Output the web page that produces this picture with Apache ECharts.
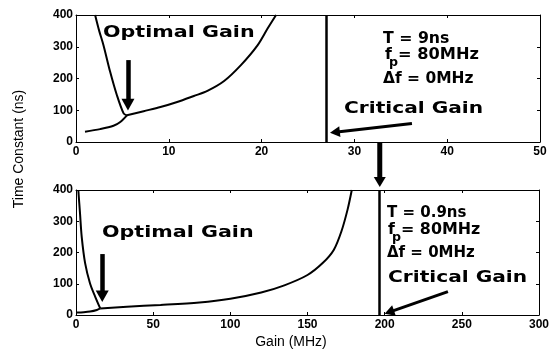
<!DOCTYPE html>
<html><head><meta charset="utf-8">
<script src="https://cdn.jsdelivr.net/npm/echarts@6/dist/echarts.min.js"></script>
<style>html,body{margin:0;padding:0;background:#fff}#c{width:555px;height:349px}</style>
</head><body><div id="c"></div>
<script>
// ---- data ----
const topXRange = [0, 50];
const topXInterval = 10;
const bottomXRange = [0, 300];
const bottomXInterval = 50;
const yRange = [0, 400];
const yInterval = 100;

// top panel: T = 9ns
const topLeftBranch = [[2.06,400],[2.5,350],[2.96,305],[3.68,221],[4.4,148],[5.13,90],[5.49,84]];
const topLowerBranch = [[0.97,32.5],[2.6,40.6],[4.04,51],[4.77,63],[5.49,84]];
const topRightBranch = [[5.49,84],[7.29,97],[9.1,110],[10.9,126],[12.7,145],[14.16,161],[15.96,192],[17.77,242],[19.58,305],[20.66,358],[21.56,400]];
const topCritical = 27;
const topOptimalArrow = [[5.6,258],[5.6,118]];
const topCriticalArrow = [[36.2,58],[27.9,31]];

// bottom panel: T = 0.9ns
const bottomLeftBranch = [[1.5,400],[2.6,325],[3.7,250],[5.9,166],[9.1,101],[12.4,59],[15.7,21]];
const bottomLowerBranch = [[0.4,8],[5,9],[9.1,11],[13.5,16],[15.7,21]];
const bottomRightBranch = [[15.7,21],[33,26.6],[54.8,32],[80,40],[100,52],[120,72],[135,95],[150,128],[160,167],[167,208],[172,268],[176,338],[178.7,400]];
const bottomCritical = 196.5;
const bottomOptimalArrow = [[17,195],[17,60]];
const bottomCriticalArrow = [[241,75],[203,9]];

// ---- chart ----
const chart = echarts.init(document.getElementById('c'));
const labelFont = {color:'#000', fontFamily:'Liberation Sans, Arial, sans-serif', fontWeight:'bold', fontSize:12};
function xAx(grid, range, interval, pos, labels){
  return {type:'value', gridIndex:grid, position:pos, min:range[0], max:range[1], interval:interval,
    axisLine:{show:true, onZero:false, lineStyle:{color:'#000', width:1}},
    axisTick:{show:true, inside:true, length:3, lineStyle:{color:'#000'}},
    axisLabel:Object.assign({show:labels, margin:4}, labelFont),
    splitLine:{show:false}};
}
function yAx(grid, pos, labels){
  return {type:'value', gridIndex:grid, position:pos, min:yRange[0], max:yRange[1], interval:yInterval,
    axisLine:{show:true, onZero:false, lineStyle:{color:'#000', width:1}},
    axisTick:{show:true, inside:true, length:3, lineStyle:{color:'#000'}},
    axisLabel:Object.assign({show:labels, margin:3}, labelFont),
    splitLine:{show:false}};
}
function curve(data, xi, yi, extra){
  return Object.assign({type:'line', data:data, xAxisIndex:xi, yAxisIndex:yi, showSymbol:false, symbol:'none',
    smooth:0.3, silent:true, animation:false, clip:true,
    lineStyle:{color:'#000', width:2}}, extra||{});
}
function arrowLine(pts, width, size){
  return [{coord:pts[0], symbol:'none'},
          {coord:pts[1], symbol:'triangle', symbolSize:[size, size*0.9], lineStyle:{color:'#000', width:width}}];
}
function markers(critical, optArrow, critArrow, optW){
  return {silent:true, animation:false, label:{show:false}, symbol:'none',
    lineStyle:{color:'#000', width:2.5, type:'solid'},
    data:[
      [{coord:[critical, yRange[0]], symbol:'none'},{coord:[critical, yRange[1]], symbol:'none'}],
      arrowLine(optArrow, optW, 13),
      arrowLine(critArrow, 3, 11)
    ]};
}

chart.setOption({
  animation:false,
  backgroundColor:'#fff',
  grid:[
    {left:76, top:15, width:464, height:127, containLabel:false},
    {left:76, top:190, width:463, height:125, containLabel:false}
  ],
  xAxis:[
    xAx(0, topXRange, topXInterval, 'bottom', true),
    xAx(0, topXRange, topXInterval, 'top', false),
    xAx(1, bottomXRange, bottomXInterval, 'bottom', true),
    xAx(1, bottomXRange, bottomXInterval, 'top', false)
  ],
  yAxis:[
    yAx(0, 'left', true), yAx(0, 'right', false),
    yAx(1, 'left', true), yAx(1, 'right', false)
  ],
  series:[
    curve(topLeftBranch, 0, 0),
    curve(topLowerBranch, 0, 0),
    curve(topRightBranch, 0, 0, {markLine: markers(topCritical, topOptimalArrow, topCriticalArrow, 4.5)}),
    curve(bottomLeftBranch, 2, 2),
    curve(bottomLowerBranch, 2, 2),
    curve(bottomRightBranch, 2, 2, {markLine: markers(bottomCritical, bottomOptimalArrow, bottomCriticalArrow, 4.5)})
  ]
});

// ---- annotations ----
const bold = 'DejaVu Sans, sans-serif';
function txt(id, s, x, y, size, sx, extra){
  return Object.assign({type:'text', id:id, x:x, y:y, scaleX:sx||1, silent:true,
    style:{text:s, x:0, y:0, fill:'#000', font:'bold '+size+'px '+bold, textAlign:'left', textVerticalAlign:'middle'}}, extra||{});
}
const g = [];
g.push(txt('og1','Optimal Gain',103,33,16,1.29));
g.push(txt('og2','Optimal Gain',102,233,16,1.29));
g.push(txt('cg1','Critical Gain',344,109,16,1.26));
g.push(txt('cg2','Critical Gain',388,278,16,1.26));
// params top
g.push(txt('t1','T = 9ns',383,39,15,1.05));
g.push(txt('f1','f',385,55,15,1.05));
g.push(txt('p1','p',389,63,12,1.05));
g.push(txt('e1','= 80MHz',398,55,15,1.08));
g.push(txt('d1','\u0394f = 0MHz',383,79,15,1.03));
// params bottom
g.push(txt('t2','T = 0.9ns',387,213,15,1.0));
g.push(txt('f2','f',388,230,15,1.05));
g.push(txt('p2','p',392,238,12,1.05));
g.push(txt('e2','= 80MHz',401,230,15,1.06));
g.push(txt('d2','\u0394f = 0MHz',387,253,15,1.0));
// axis titles
g.push({type:'text', id:'yt', x:19, y:149, rotation:Math.PI/2, silent:true,
  style:{text:'Time Constant (ns)', x:0, y:0, fill:'#000', font:'14px Liberation Sans, Arial, sans-serif', textAlign:'center', textVerticalAlign:'middle'}});
g.push({type:'text', id:'xt', x:291, y:342, silent:true,
  style:{text:'Gain (MHz)', x:0, y:0, fill:'#000', font:'14px Liberation Sans, Arial, sans-serif', textAlign:'center', textVerticalAlign:'middle'}});
// connecting arrow between panels at the bottom critical gain
const ax = chart.convertToPixel({xAxisIndex:2}, bottomCritical) + 0.5;
const y0 = chart.convertToPixel({yAxisIndex:0}, yRange[0]);
const y1 = chart.convertToPixel({yAxisIndex:2}, yRange[1]) - 3;
g.push({type:'line', id:'conn', silent:true, shape:{x1:ax, y1:y0, x2:ax, y2:y1-8}, style:{stroke:'#000', lineWidth:5}});
g.push({type:'polygon', id:'connh', silent:true, shape:{points:[[ax-6,y1-10],[ax+6,y1-10],[ax,y1]]}, style:{fill:'#000'}});
chart.setOption({graphic:g});
</script>
</body></html>
